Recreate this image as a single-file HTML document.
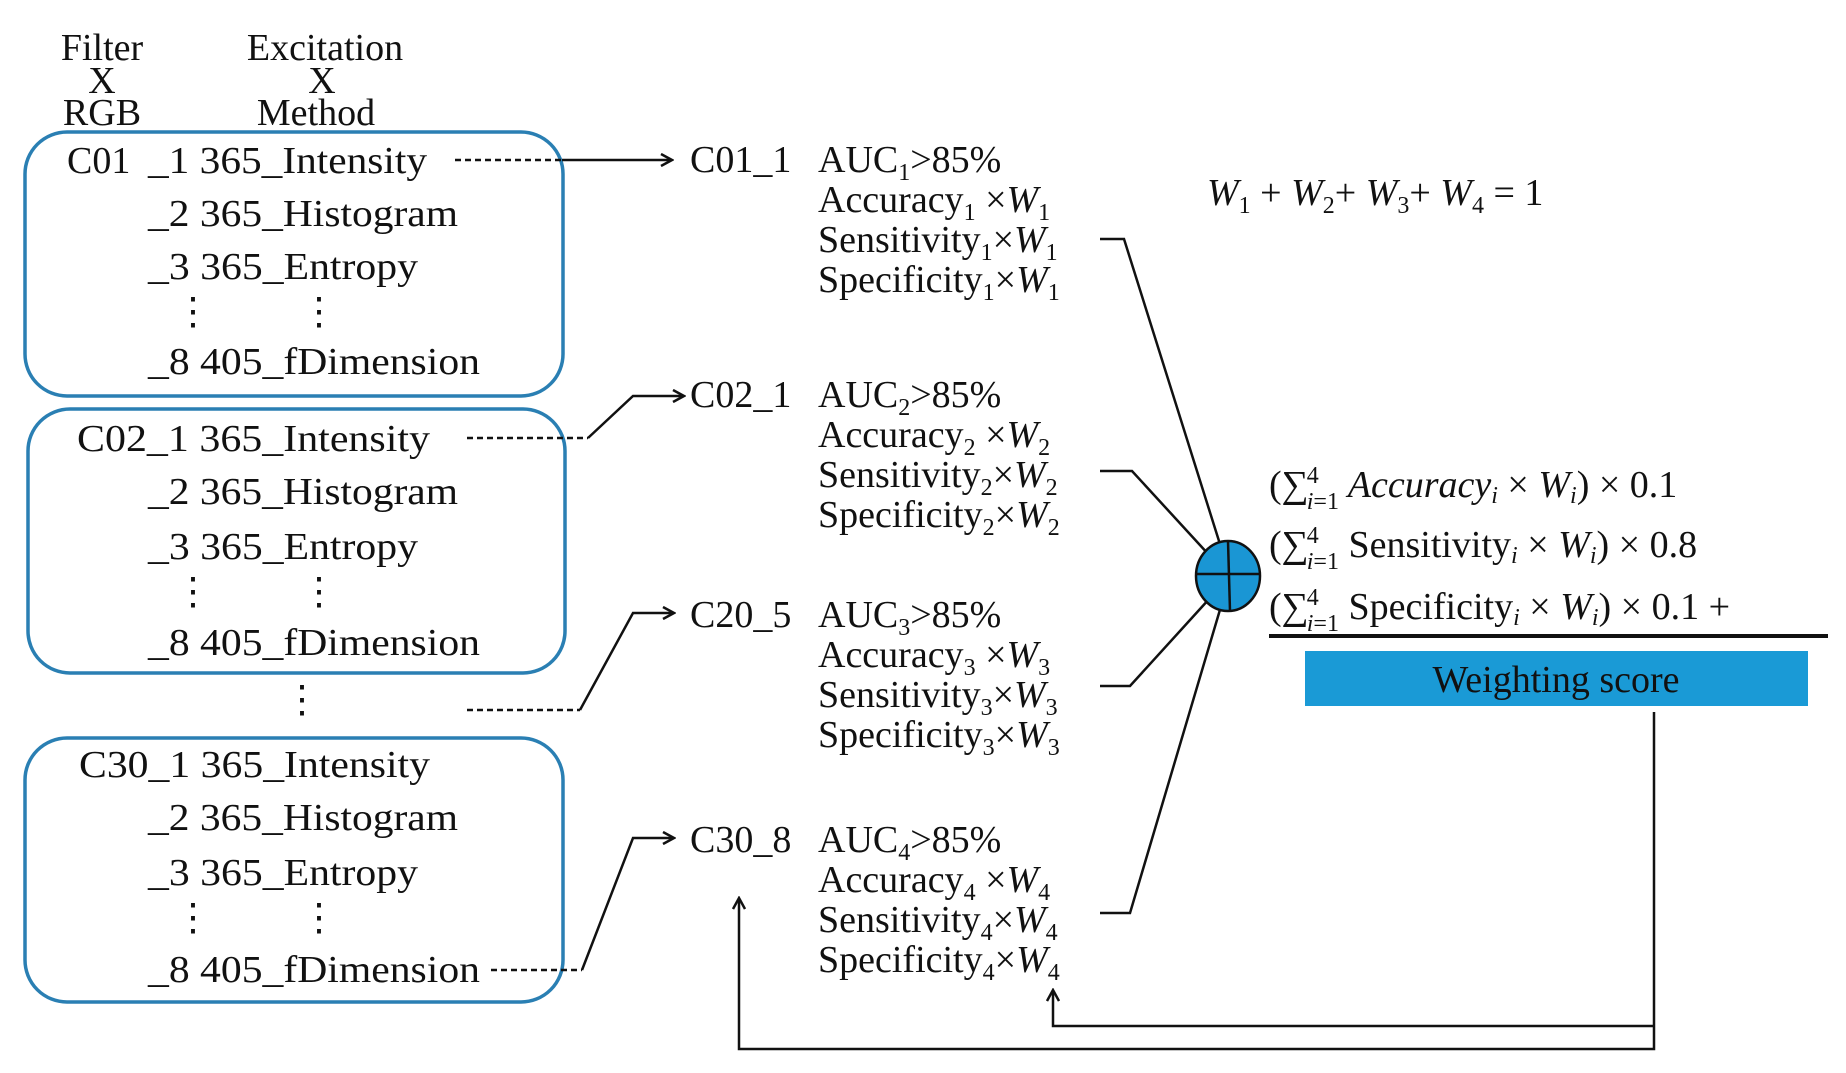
<!DOCTYPE html>
<html><head><meta charset="utf-8"><style>
html,body{margin:0;padding:0;background:#fff;width:1846px;height:1073px;overflow:hidden}
svg, svg text, svg tspan{font-family:"Liberation Serif","Times New Roman","DejaVu Serif",serif}
svg text{fill:#111}
</style></head><body>
<svg width="1846" height="1073" viewBox="0 0 1846 1073" xmlns="http://www.w3.org/2000/svg" font-family="Liberation Serif, serif">
<defs>
<marker id="ah" markerWidth="14" markerHeight="14" refX="12" refY="7" orient="auto" markerUnits="userSpaceOnUse">
<path d="M1,1 L12,7 L1,13" fill="none" stroke="#111" stroke-width="2.5"/>
</marker>
</defs>
<g font-size="38" text-anchor="middle">
<text x="102" y="60">Filter</text><text x="102" y="93">X</text><text x="102" y="125">RGB</text>
<text x="325" y="60">Excitation</text><text x="322" y="93">X</text><text x="316" y="125">Method</text>
</g>
<g fill="none" stroke="#2a7fb3" stroke-width="3.5">
<rect x="25" y="132" width="538" height="264" rx="42"/>
<rect x="28" y="409" width="537" height="264" rx="42"/>
<rect x="25" y="738" width="538" height="264" rx="42"/>
</g>
<g font-size="38">
<text x="67" y="173">C01</text>
<text x="148" y="173" textLength="279" lengthAdjust="spacingAndGlyphs">_1 365_Intensity</text>
<text x="148" y="226" textLength="310" lengthAdjust="spacingAndGlyphs">_2 365_Histogram</text>
<text x="148" y="279" textLength="270" lengthAdjust="spacingAndGlyphs">_3 365_Entropy</text>
<text x="148" y="374" textLength="332" lengthAdjust="spacingAndGlyphs">_8 405_fDimension</text>
<text x="174" y="324">⋮</text><text x="300" y="324">⋮</text>
<text x="77" y="451" textLength="353" lengthAdjust="spacingAndGlyphs">C02_1 365_Intensity</text>
<text x="148" y="504" textLength="310" lengthAdjust="spacingAndGlyphs">_2 365_Histogram</text>
<text x="148" y="559" textLength="270" lengthAdjust="spacingAndGlyphs">_3 365_Entropy</text>
<text x="148" y="655" textLength="332" lengthAdjust="spacingAndGlyphs">_8 405_fDimension</text>
<text x="174" y="604">⋮</text><text x="300" y="604">⋮</text>
<text x="283" y="712">⋮</text>
<text x="79" y="777" textLength="351" lengthAdjust="spacingAndGlyphs">C30_1 365_Intensity</text>
<text x="148" y="830" textLength="310" lengthAdjust="spacingAndGlyphs">_2 365_Histogram</text>
<text x="148" y="885" textLength="270" lengthAdjust="spacingAndGlyphs">_3 365_Entropy</text>
<text x="148" y="982" textLength="332" lengthAdjust="spacingAndGlyphs">_8 405_fDimension</text>
<text x="174" y="930">⋮</text><text x="300" y="930">⋮</text>
</g>
<g stroke="#111" stroke-width="2.5" fill="none">
<line x1="455" y1="160" x2="562" y2="160" stroke-dasharray="6,4"/>
<line x1="562" y1="160" x2="672" y2="160" marker-end="url(#ah)"/>
<line x1="467" y1="438" x2="588" y2="438" stroke-dasharray="6,4"/>
<polyline points="588,438 633,396 684,396" marker-end="url(#ah)"/>
<line x1="467" y1="710" x2="580" y2="710" stroke-dasharray="6,4"/>
<polyline points="580,710 633,613 674,613" marker-end="url(#ah)"/>
<line x1="491" y1="970" x2="582" y2="970" stroke-dasharray="6,4"/>
<polyline points="582,970 633,838 674,838" marker-end="url(#ah)"/>
</g>
<g font-size="38">
<g>
<text x="690" y="172">C01_1</text>
<text x="818" y="172">AUC<tspan font-size="24" dy="8">1</tspan><tspan dy="-8">&gt;85%</tspan></text>
<text x="818" y="212">Accuracy<tspan font-size="24" dy="8">1</tspan><tspan dy="-8"> ×</tspan><tspan font-style="italic">W</tspan><tspan font-size="24" dy="8">1</tspan></text>
<text x="818" y="252">Sensitivity<tspan font-size="24" dy="8">1</tspan><tspan dy="-8">×</tspan><tspan font-style="italic">W</tspan><tspan font-size="24" dy="8">1</tspan></text>
<text x="818" y="292">Specificity<tspan font-size="24" dy="8">1</tspan><tspan dy="-8">×</tspan><tspan font-style="italic">W</tspan><tspan font-size="24" dy="8">1</tspan></text>
</g>
<g transform="translate(0,235)">
<text x="690" y="172">C02_1</text>
<text x="818" y="172">AUC<tspan font-size="24" dy="8">2</tspan><tspan dy="-8">&gt;85%</tspan></text>
<text x="818" y="212">Accuracy<tspan font-size="24" dy="8">2</tspan><tspan dy="-8"> ×</tspan><tspan font-style="italic">W</tspan><tspan font-size="24" dy="8">2</tspan></text>
<text x="818" y="252">Sensitivity<tspan font-size="24" dy="8">2</tspan><tspan dy="-8">×</tspan><tspan font-style="italic">W</tspan><tspan font-size="24" dy="8">2</tspan></text>
<text x="818" y="292">Specificity<tspan font-size="24" dy="8">2</tspan><tspan dy="-8">×</tspan><tspan font-style="italic">W</tspan><tspan font-size="24" dy="8">2</tspan></text>
</g>
<g transform="translate(0,455)">
<text x="690" y="172">C20_5</text>
<text x="818" y="172">AUC<tspan font-size="24" dy="8">3</tspan><tspan dy="-8">&gt;85%</tspan></text>
<text x="818" y="212">Accuracy<tspan font-size="24" dy="8">3</tspan><tspan dy="-8"> ×</tspan><tspan font-style="italic">W</tspan><tspan font-size="24" dy="8">3</tspan></text>
<text x="818" y="252">Sensitivity<tspan font-size="24" dy="8">3</tspan><tspan dy="-8">×</tspan><tspan font-style="italic">W</tspan><tspan font-size="24" dy="8">3</tspan></text>
<text x="818" y="292">Specificity<tspan font-size="24" dy="8">3</tspan><tspan dy="-8">×</tspan><tspan font-style="italic">W</tspan><tspan font-size="24" dy="8">3</tspan></text>
</g>
<g transform="translate(0,680)">
<text x="690" y="172">C30_8</text>
<text x="818" y="172">AUC<tspan font-size="24" dy="8">4</tspan><tspan dy="-8">&gt;85%</tspan></text>
<text x="818" y="212">Accuracy<tspan font-size="24" dy="8">4</tspan><tspan dy="-8"> ×</tspan><tspan font-style="italic">W</tspan><tspan font-size="24" dy="8">4</tspan></text>
<text x="818" y="252">Sensitivity<tspan font-size="24" dy="8">4</tspan><tspan dy="-8">×</tspan><tspan font-style="italic">W</tspan><tspan font-size="24" dy="8">4</tspan></text>
<text x="818" y="292">Specificity<tspan font-size="24" dy="8">4</tspan><tspan dy="-8">×</tspan><tspan font-style="italic">W</tspan><tspan font-size="24" dy="8">4</tspan></text>
</g>
</g>
<g stroke="#111" stroke-width="2.5" fill="none">
<polyline points="1100,239 1124,239 1230,576"/>
<polyline points="1100,471 1132,471 1210,556"/>
<polyline points="1100,686 1130,686 1210,598"/>
<polyline points="1100,913 1130,913 1230,576"/>
</g>
<ellipse cx="1228" cy="576" rx="32" ry="35" fill="#1a96d4" stroke="#111" stroke-width="2.5"/>
<line x1="1196" y1="574" x2="1260" y2="574" stroke="#111" stroke-width="2.5"/>
<line x1="1228" y1="541" x2="1230" y2="611" stroke="#111" stroke-width="2.5"/>
<g font-size="38">
<text x="1207" y="205"><tspan font-style="italic">W</tspan><tspan font-size="24" dy="8">1</tspan><tspan dy="-8"> + </tspan><tspan font-style="italic">W</tspan><tspan font-size="24" dy="8">2</tspan><tspan dy="-8">+ </tspan><tspan font-style="italic">W</tspan><tspan font-size="24" dy="8">3</tspan><tspan dy="-8">+ </tspan><tspan font-style="italic">W</tspan><tspan font-size="24" dy="8">4</tspan><tspan dy="-8"> = 1</tspan></text>
<text x="1269" y="497">(∑<tspan font-size="24" dx="-2" dy="-14">4</tspan><tspan font-size="24" font-style="italic" dx="-12" dy="26">i</tspan><tspan font-size="24">=1</tspan><tspan dy="-12" font-style="italic"> Accuracy</tspan><tspan font-size="24" font-style="italic" dy="6">i</tspan><tspan dy="-6"> × </tspan><tspan font-style="italic">W</tspan><tspan font-size="24" font-style="italic" dy="6">i</tspan><tspan dy="-6">) × 0.1</tspan></text>
<text x="1269" y="557">(∑<tspan font-size="24" dx="-2" dy="-14">4</tspan><tspan font-size="24" font-style="italic" dx="-12" dy="26">i</tspan><tspan font-size="24">=1</tspan><tspan dy="-12"> Sensitivity</tspan><tspan font-size="24" font-style="italic" dy="6">i</tspan><tspan dy="-6"> × </tspan><tspan font-style="italic">W</tspan><tspan font-size="24" font-style="italic" dy="6">i</tspan><tspan dy="-6">) × 0.8</tspan></text>
<text x="1269" y="619">(∑<tspan font-size="24" dx="-2" dy="-14">4</tspan><tspan font-size="24" font-style="italic" dx="-12" dy="26">i</tspan><tspan font-size="24">=1</tspan><tspan dy="-12"> Specificity</tspan><tspan font-size="24" font-style="italic" dy="6">i</tspan><tspan dy="-6"> × </tspan><tspan font-style="italic">W</tspan><tspan font-size="24" font-style="italic" dy="6">i</tspan><tspan dy="-6">) × 0.1 +</tspan></text>
</g>
<line x1="1269" y1="636" x2="1828" y2="636" stroke="#111" stroke-width="4"/>
<rect x="1305" y="651" width="503" height="55" fill="#1a9ad6"/>
<text x="1556" y="692" font-size="38" text-anchor="middle">Weighting score</text>
<g stroke="#111" stroke-width="2.5" fill="none">
<polyline points="1654,712 1654,1049 739,1049 739,898" marker-end="url(#ah)"/>
<polyline points="1654,1026 1053,1026 1053,990" marker-end="url(#ah)"/>
</g>
</svg>
</body></html>
